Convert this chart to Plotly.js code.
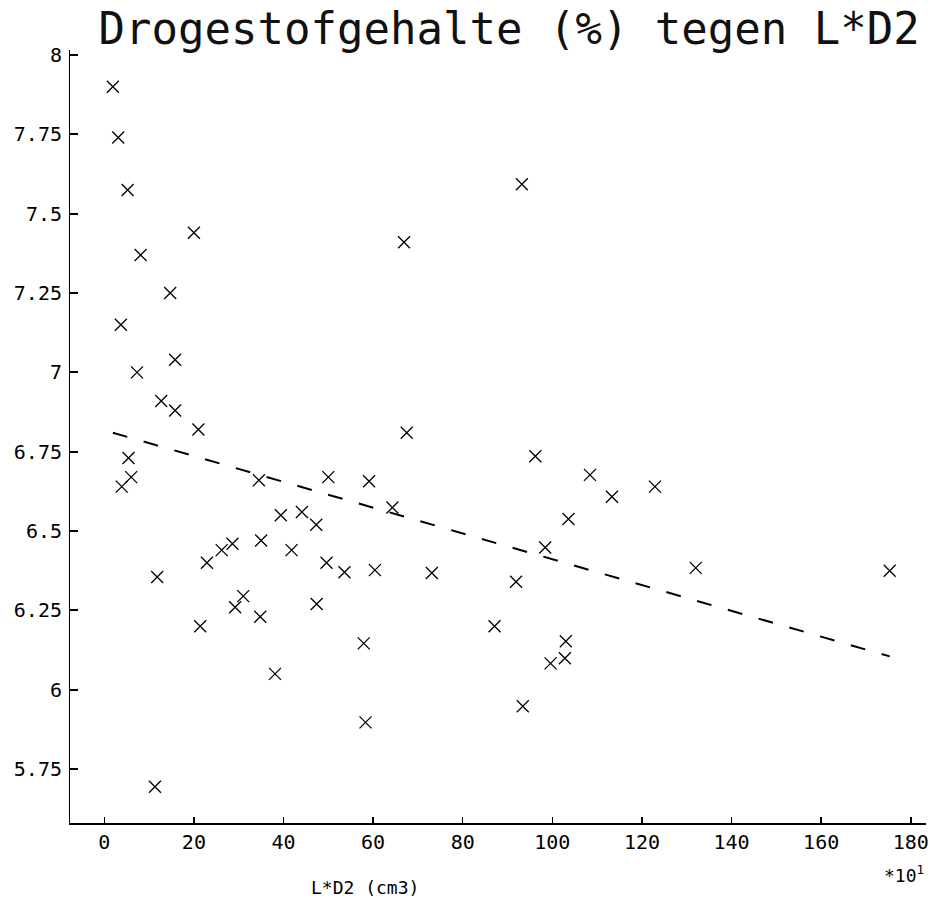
<!DOCTYPE html>
<html>
<head>
<meta charset="utf-8">
<script src="https://cdn.plot.ly/plotly-3.0.1.min.js"></script>
<style>html,body{margin:0;padding:0;background:#fff;}#chart{width:936px;height:902px;}</style>
</head>
<body>
<div id="chart"></div>
<script>
// L*D2 (x10 cm3)
const ld2 = [1.9, 3.1, 5.2, 20.0, 8.1, 14.7, 3.7, 15.8, 7.3, 12.7, 15.8, 21.0, 5.4, 6.0, 3.9,
  34.5, 50.0, 39.4, 44.1, 47.3, 28.6, 26.2, 22.9, 35.0, 41.8, 49.6, 53.6, 11.8, 31.0, 29.2,
  34.8, 47.4, 21.4, 57.9, 38.1, 58.3, 11.3, 96.2, 59.1, 108.4, 113.3, 122.9, 64.3, 103.6, 98.4,
  60.4, 73.1, 91.9, 87.1, 103.0, 102.8, 99.6, 93.4, 93.2, 66.9, 67.5, 132.0, 175.3];
// Drogestofgehalte (%)
const droge = [7.90, 7.74, 7.575, 7.44, 7.37, 7.25, 7.15, 7.04, 7.00, 6.91, 6.88, 6.82, 6.73, 6.67, 6.64,
  6.66, 6.67, 6.55, 6.56, 6.52, 6.46, 6.44, 6.40, 6.47, 6.44, 6.40, 6.37, 6.355, 6.295, 6.26,
  6.23, 6.27, 6.20, 6.146, 6.05, 5.897, 5.694, 6.736, 6.657, 6.677, 6.608, 6.64, 6.574, 6.538, 6.448,
  6.377, 6.368, 6.34, 6.20, 6.153, 6.099, 6.083, 5.948, 7.593, 7.41, 6.81, 6.384, 6.375];
// regression line
const trendX = [1.9, 175.3];
const trendY = [6.81, 6.105];
// ticks
const xTickVals = [0, 20, 40, 60, 80, 100, 120, 140, 160, 180];
const xTickText = ['0', '20', '40', '60', '80', '100', '120', '140', '160', '180'];
const yTickVals = [5.75, 6, 6.25, 6.5, 6.75, 7, 7.25, 7.5, 7.75, 8];
const yTickText = ['5.75', '6', '6.25', '6.5', '6.75', '7', '7.25', '7.5', '7.75', '8'];

const FONT = '"DejaVu Sans Mono", monospace';

const traces = [
  {
    x: ld2, y: droge, type: 'scatter', mode: 'markers',
    marker: {symbol: 'x-thin', size: 12, color: '#000', line: {color: '#000', width: 1.3}},
    hoverinfo: 'x+y', showlegend: false
  },
  {
    x: trendX, y: trendY, type: 'scatter', mode: 'lines',
    line: {color: '#000', width: 2, dash: '15px,17px'},
    hoverinfo: 'skip', showlegend: false
  }
];

const layout = {
  width: 936, height: 902,
  paper_bgcolor: '#fff', plot_bgcolor: '#fff',
  margin: {l: 70, r: 10, t: 50, b: 79},
  font: {family: FONT, color: '#000'},
  title: {
    text: 'Drogestofgehalte (%) tegen L*D2',
    font: {family: FONT, size: 44, color: '#111'},
    xref: 'container', yref: 'container',
    x: 0.544, xanchor: 'center', y: 0.968, yanchor: 'middle'
  },
  xaxis: {
    range: [-7.66, 183.4],
    tickmode: 'array', tickvals: xTickVals, ticktext: xTickText,
    ticks: 'inside', ticklen: 6, tickwidth: 1.5, tickcolor: '#000',
    ticklabelstandoff: 0,
    showline: true, linecolor: '#000', linewidth: 2, mirror: false,
    showgrid: false, zeroline: false,
    tickfont: {family: FONT, size: 20, color: '#000'}
  },
  yaxis: {
    range: [5.58, 8.016],
    tickmode: 'array', tickvals: yTickVals, ticktext: yTickText,
    ticks: 'inside', ticklen: 8, tickwidth: 2, tickcolor: '#000',
    ticklabelstandoff: 3,
    showline: true, linecolor: '#000', linewidth: 1, mirror: false,
    showgrid: false, zeroline: false,
    tickfont: {family: FONT, size: 20, color: '#000'}
  },
  annotations: [
    {
      text: 'L*D2 (cm3)', xref: 'paper', yref: 'paper',
      x: 0.345, y: -0.083, xanchor: 'center', yanchor: 'middle',
      showarrow: false, font: {family: FONT, size: 18, color: '#000'}
    },
    {
      text: '*10<sup>1</sup>', xref: 'paper', yref: 'paper',
      x: 1.0, y: -0.066, xanchor: 'right', yanchor: 'middle',
      showarrow: false, font: {family: FONT, size: 18, color: '#000'}
    }
  ]
};

Plotly.newPlot('chart', traces, layout, {displayModeBar: false, staticPlot: true});
</script>
</body>
</html>
